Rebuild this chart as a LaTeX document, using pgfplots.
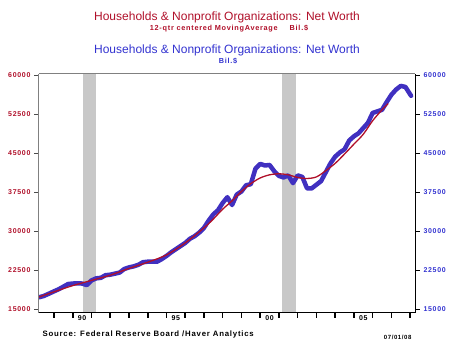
\documentclass[border=0pt]{standalone}
\usepackage{fontspec}
\setmainfont{Liberation Sans}
\newfontfamily\tickfont[LetterSpace=10]{Liberation Sans}
\usepackage{pgfplots}
\pgfplotsset{compat=1.18}
\definecolor{nwred}{HTML}{B0102A}
\definecolor{nwblue}{HTML}{4030C0}
\definecolor{lblblue}{HTML}{3333D0}
\definecolor{recgray}{HTML}{C8C8C8}
\begin{document}
\begin{tikzpicture}[x=1pt,y=1pt]
\path[use as bounding box] (0,0) rectangle (464,360);
\begin{axis}[at={(39pt,47.5pt)}, anchor=south west, scale only axis,
  width=376pt, height=238.5pt,
  xmin=1988.2, xmax=2008.26, ymin=14330, ymax=60190,
  axis on top,
  axis x line*=bottom, axis y line*=left,
  x axis line style={black, line width=1pt, -},
  y axis line style={gray, line width=1pt, -},
  tick align=outside, major tick length=5pt,
  xtick={1989,...,2008}, xticklabels={},
  x tick style={black, line width=1.6pt},
  extra x ticks={1990.5,1995.5,2000.5,2005.5},
  extra x tick labels={90,95,00,05},
  extra x tick style={major tick length=0pt},
  xticklabel style={font=\tickfont\bfseries\fontsize{7}{8}\selectfont, text=black},
  ytick={15000,22500,30000,37500,45000,52500,60000},
  scaled y ticks=false,
  y tick style={gray!60!black, line width=0.8pt},
  yticklabel style={text=nwred, font=\tickfont\bfseries\fontsize{7}{8}\selectfont},
  /pgf/number format/assume math mode=true,
  /pgf/number format/1000 sep={},
]
\addplot[fill=recgray, draw=none] coordinates {(1990.55,14330) (1990.55,60190) (1991.25,60190) (1991.25,14330)};
\addplot[fill=recgray, draw=none] coordinates {(2001.17,14330) (2001.17,60190) (2001.92,60190) (2001.92,14330)};
\addplot[nwblue, line width=4.5pt, line join=round, line cap=round] coordinates {
(1988.20,17250) (1988.45,17500) (1988.70,17900) (1989.00,18400) (1989.25,18800)
(1989.50,19300) (1989.75,19800) (1990.00,19900) (1990.25,19950) (1990.50,19900)
(1990.75,19600) (1991.00,20500) (1991.25,20900) (1991.50,21000) (1991.75,21500)
(1992.00,21600) (1992.25,21800) (1992.50,22000) (1992.75,22700) (1993.00,23000)
(1993.25,23200) (1993.50,23500) (1993.75,24000) (1994.00,24100) (1994.25,24100)
(1994.50,24100) (1994.75,24600) (1995.00,25200) (1995.25,25900) (1995.50,26500)
(1995.75,27100) (1996.00,27700) (1996.25,28500) (1996.50,29000) (1996.75,29700)
(1997.00,30600) (1997.25,32000) (1997.50,33200) (1997.75,34000) (1998.00,35400)
(1998.25,36500) (1998.50,35000) (1998.75,37000) (1999.00,37600) (1999.25,38800)
(1999.50,39000) (1999.75,42000) (2000.00,42900) (2000.25,42600) (2000.50,42700)
(2000.75,41500) (2001.00,40600) (2001.25,40300) (2001.50,40700) (2001.75,39200)
(2002.00,40700) (2002.25,40400) (2002.50,38200) (2002.75,38200) (2003.00,38900)
(2003.25,39600) (2003.50,41300) (2003.75,43000) (2004.00,44300) (2004.25,45100)
(2004.50,45700) (2004.75,47400) (2005.00,48200) (2005.25,48800) (2005.50,49800)
(2005.75,50800) (2006.00,52700) (2006.25,53000) (2006.50,53300) (2006.75,54800)
(2007.00,56200) (2007.25,57200) (2007.50,57900) (2007.75,57700) (2008.05,56000)
};
\addplot[nwred, line width=1.3pt, smooth] coordinates {
(1988.20,17300) (1989.00,18300) (1990.00,19500) (1991.00,20500) (1992.00,21500)
(1993.00,22800) (1994.00,24000) (1995.00,25400) (1996.00,27700) (1997.00,30600)
(1997.50,32300) (1998.00,34200) (1998.50,35800) (1999.00,37600) (1999.50,39100)
(2000.00,40200) (2000.50,40800) (2001.00,41000) (2001.50,40800) (2002.00,40300)
(2002.50,40100) (2003.00,40400) (2003.50,41600) (2004.00,43000) (2004.50,44800)
(2005.00,46700) (2005.50,48600) (2006.00,51200) (2006.50,53300) (2006.83,54500)
};
\end{axis}
\begin{axis}[at={(39pt,47.5pt)}, anchor=south west, scale only axis,
  width=376pt, height=238.5pt,
  xmin=1988.2, xmax=2008.26, ymin=14330, ymax=60190,
  axis x line*=top, axis y line*=right,
  x axis line style={gray, line width=1pt, -},
  y axis line style={black, line width=1pt, -},
  tick align=outside, major tick length=5pt,
  xtick=\empty,
  ytick={15000,22500,30000,37500,45000,52500,60000},
  scaled y ticks=false,
  y tick style={black, line width=0.8pt},
  yticklabel style={text=lblblue, font=\tickfont\bfseries\fontsize{7}{8}\selectfont},
  /pgf/number format/assume math mode=true,
  /pgf/number format/1000 sep={},
]
\end{axis}
\node[text=nwred, font=\fontsize{12}{14}\selectfont] at (227,343) {Households \& Nonprofit Organizations: Net Worth};
\node[text=nwred, font=\tickfont\bfseries\fontsize{7.3}{8}\selectfont] at (229,331.5) {12-qtr centered MovingAverage\hspace{12pt}Bil.\$};
\node[text=lblblue, font=\fontsize{12}{14}\selectfont] at (227,310) {Households \& Nonprofit Organizations: Net Worth};
\node[text=lblblue, font=\tickfont\bfseries\fontsize{7.3}{8}\selectfont] at (228,298.5) {Bil.\$};
\node[anchor=west, font=\tickfont\bfseries\fontsize{7.8}{9}\selectfont] at (39,25.3) {Source:\hspace{4pt}Federal Reserve Board /Haver Analytics};
\node[anchor=east, font=\tickfont\bfseries\fontsize{6}{7}\selectfont] at (415,22.5) {07/01/08};
\end{tikzpicture}
\end{document}
